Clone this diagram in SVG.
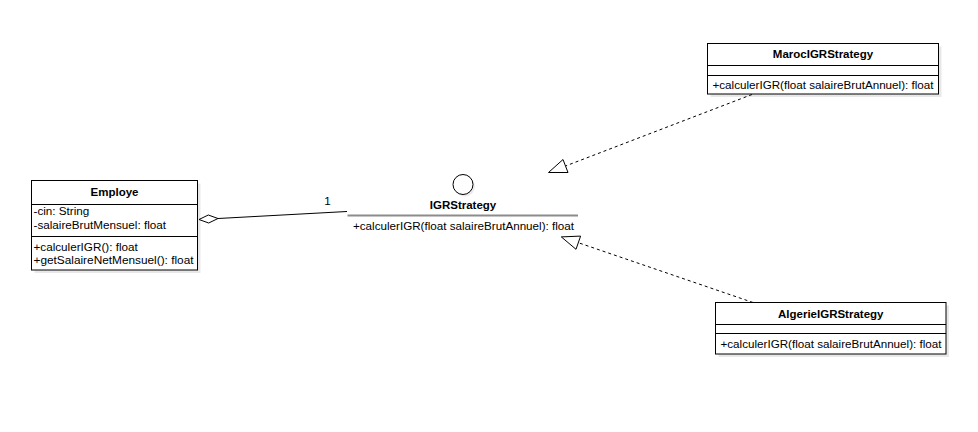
<svg xmlns="http://www.w3.org/2000/svg" width="978" height="432" viewBox="0 0 978 432">
<style>
text{font-family:"Liberation Sans",Arial,sans-serif;font-size:11.7px;fill:#000}
.t{font-weight:bold;font-size:11.5px;text-anchor:middle}
.box{fill:#fff;stroke:#000;stroke-width:1}
.sh{fill:#000;opacity:0.09}
.div{stroke:#000;stroke-width:1}
.dash{fill:none;stroke:#000;stroke-width:1;stroke-dasharray:3 3}
.head{fill:#fff;stroke:#000;stroke-width:1}
</style>
<rect width="978" height="432" fill="#fff"/>
<g id="connectors">
<polyline points="218,218.5 347,211.5" fill="none" stroke="#000" stroke-width="1"/>
<polygon points="199,219.5 208.3,215 218,218.5 208.7,223" fill="#fff" stroke="#000" stroke-width="1"/>
<text x="327.5" y="204.5" text-anchor="middle">1</text>
<line class="dash" x1="752" y1="94.5" x2="565.5" y2="166"/>
<polygon class="head" points="548.5,172.5 563,159.5 568,172.5"/>
<line class="dash" x1="753" y1="302.5" x2="578.3" y2="242.7"/>
<polygon class="head" points="561.3,236.9 580.6,236.1 576,249.3"/>
</g>
<g id="Employe">
<rect class="sh" x="34.5" y="183.5" width="166" height="89.5"/>
<rect class="box" x="31.5" y="180.5" width="166" height="89.5"/>
<line class="div" x1="31.5" y1="204.5" x2="197.5" y2="204.5"/>
<line class="div" x1="31.5" y1="236.5" x2="197.5" y2="236.5"/>
<text class="t" x="114.5" y="196">Employe</text>
<text x="33.5" y="214.5">-cin: String</text>
<text x="33.5" y="228.5">-salaireBrutMensuel: float</text>
<text x="33.5" y="251">+calculerIGR(): float</text>
<text x="33.5" y="264" textLength="160" lengthAdjust="spacingAndGlyphs">+getSalaireNetMensuel(): float</text>
</g>
<g id="IGRStrategy">
<circle cx="465" cy="186.5" r="10" fill="#000" opacity="0.08"/>
<circle cx="463" cy="184.5" r="10" fill="#fff" stroke="#000" stroke-width="1"/>
<text class="t" x="463" y="208.5">IGRStrategy</text>
<line x1="347.5" y1="215.5" x2="578" y2="215.5" stroke="#8c8c8c" stroke-width="2"/>
<text x="353" y="230" textLength="221" lengthAdjust="spacingAndGlyphs">+calculerIGR(float salaireBrutAnnuel): float</text>
</g>
<g id="MarocIGRStrategy">
<rect class="sh" x="710.5" y="46.5" width="231" height="50.5"/>
<rect class="box" x="707.5" y="43.5" width="231" height="50.5"/>
<line class="div" x1="707.5" y1="65.5" x2="938.5" y2="65.5"/>
<line class="div" x1="707.5" y1="75.5" x2="938.5" y2="75.5"/>
<text class="t" x="823" y="58">MarocIGRStrategy</text>
<text x="712.5" y="89" textLength="221" lengthAdjust="spacingAndGlyphs">+calculerIGR(float salaireBrutAnnuel): float</text>
</g>
<g id="AlgerieIGRStrategy">
<rect class="sh" x="718.5" y="305.5" width="230.5" height="51.5"/>
<rect class="box" x="715.5" y="302.5" width="230.5" height="51.5"/>
<line class="div" x1="715.5" y1="324.5" x2="946" y2="324.5"/>
<line class="div" x1="715.5" y1="333.5" x2="946" y2="333.5"/>
<text class="t" x="830.75" y="318">AlgerieIGRStrategy</text>
<text x="720.5" y="347.5" textLength="221" lengthAdjust="spacingAndGlyphs">+calculerIGR(float salaireBrutAnnuel): float</text>
</g>
</svg>
